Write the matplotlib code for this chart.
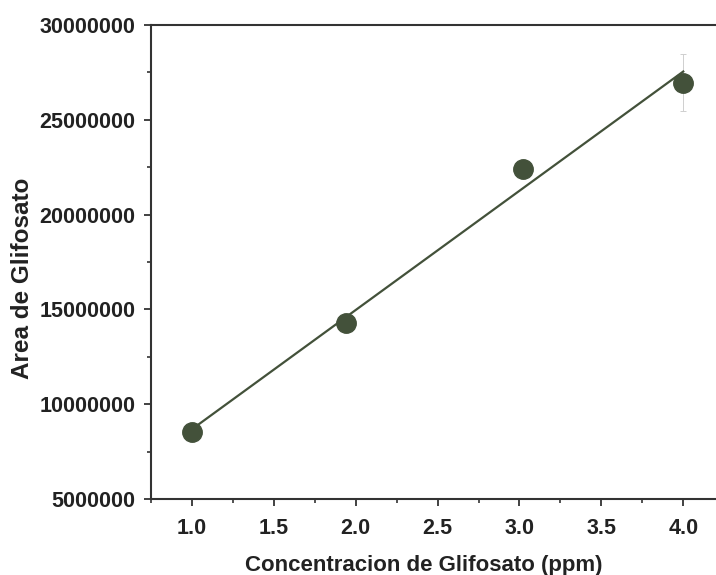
import numpy as np
import matplotlib
matplotlib.use("Agg")
import matplotlib.pyplot as plt
from matplotlib.ticker import MultipleLocator, FixedLocator

# Data
concentracion = [1.0, 1.94, 3.02, 4.0]
area = [8550000, 14300000, 22390000, 26960000]
area_err = [300000, 450000, 300000, 1500000]
x_ticks = [1.0, 1.5, 2.0, 2.5, 3.0, 3.5, 4.0]
x_tick_labels = ["1.0", "1.5", "2.0", "2.5", "3.0", "3.5", "4.0"]
y_ticks = [5000000, 10000000, 15000000, 20000000, 25000000, 30000000]
y_tick_labels = ["5000000", "10000000", "15000000", "20000000", "25000000", "30000000"]

plt.rcParams['font.family'] = ['Liberation Sans', 'DejaVu Sans']
plt.rcParams['font.weight'] = 'bold'

fig = plt.figure(figsize=(7.16, 5.75), dpi=100)
ax = fig.add_axes([0.2109, 0.1322, 0.7891, 0.8243])

col = '#43513a'
ax.errorbar(concentracion, area, yerr=area_err, fmt='none', ecolor='#cfcfcf',
            elinewidth=0.7, capsize=2.5, capthick=0.7, zorder=2)

slope, intercept = np.polyfit(concentracion, area, 1)
xf = np.array([concentracion[0], concentracion[-1]])
ax.plot(xf, slope * xf + intercept, color=col, lw=1.6, zorder=3)
ax.plot(concentracion, area, 'o', color=col, markersize=14, zorder=4)

ax.set_xlim(0.75, 4.2)
ax.set_ylim(5000000, 30000000)
ax.xaxis.set_major_locator(FixedLocator(x_ticks))
ax.set_xticklabels(x_tick_labels)
ax.yaxis.set_major_locator(FixedLocator(y_ticks))
ax.set_yticklabels(y_tick_labels)
ax.xaxis.set_minor_locator(MultipleLocator(0.25))
ax.yaxis.set_minor_locator(MultipleLocator(2500000))

for s in ['left', 'bottom', 'top']:
    ax.spines[s].set_linewidth(1.5)
    ax.spines[s].set_color('#333333')
ax.spines['right'].set_visible(False)

ax.tick_params(which='major', direction='out', length=5, width=1.3, color='#333333',
               labelsize=15.5, labelcolor='#222222', pad=6)
ax.tick_params(axis='x', which='major', pad=9)
ax.tick_params(which='minor', direction='out', length=3, width=1.2, color='#333333')
ax.tick_params(top=False, right=False, which='both')

ax.set_xlabel('Concentracion de Glifosato (ppm)', fontsize=16, fontweight='bold',
              color='#222222')
ax.set_ylabel('Area de Glifosato', fontsize=17.5, fontweight='bold',
              color='#222222')
ax.xaxis.set_label_coords(0.482, -0.118)
ax.yaxis.set_label_coords(-0.207, 0.466)

fig.savefig('out.png', dpi=100)
